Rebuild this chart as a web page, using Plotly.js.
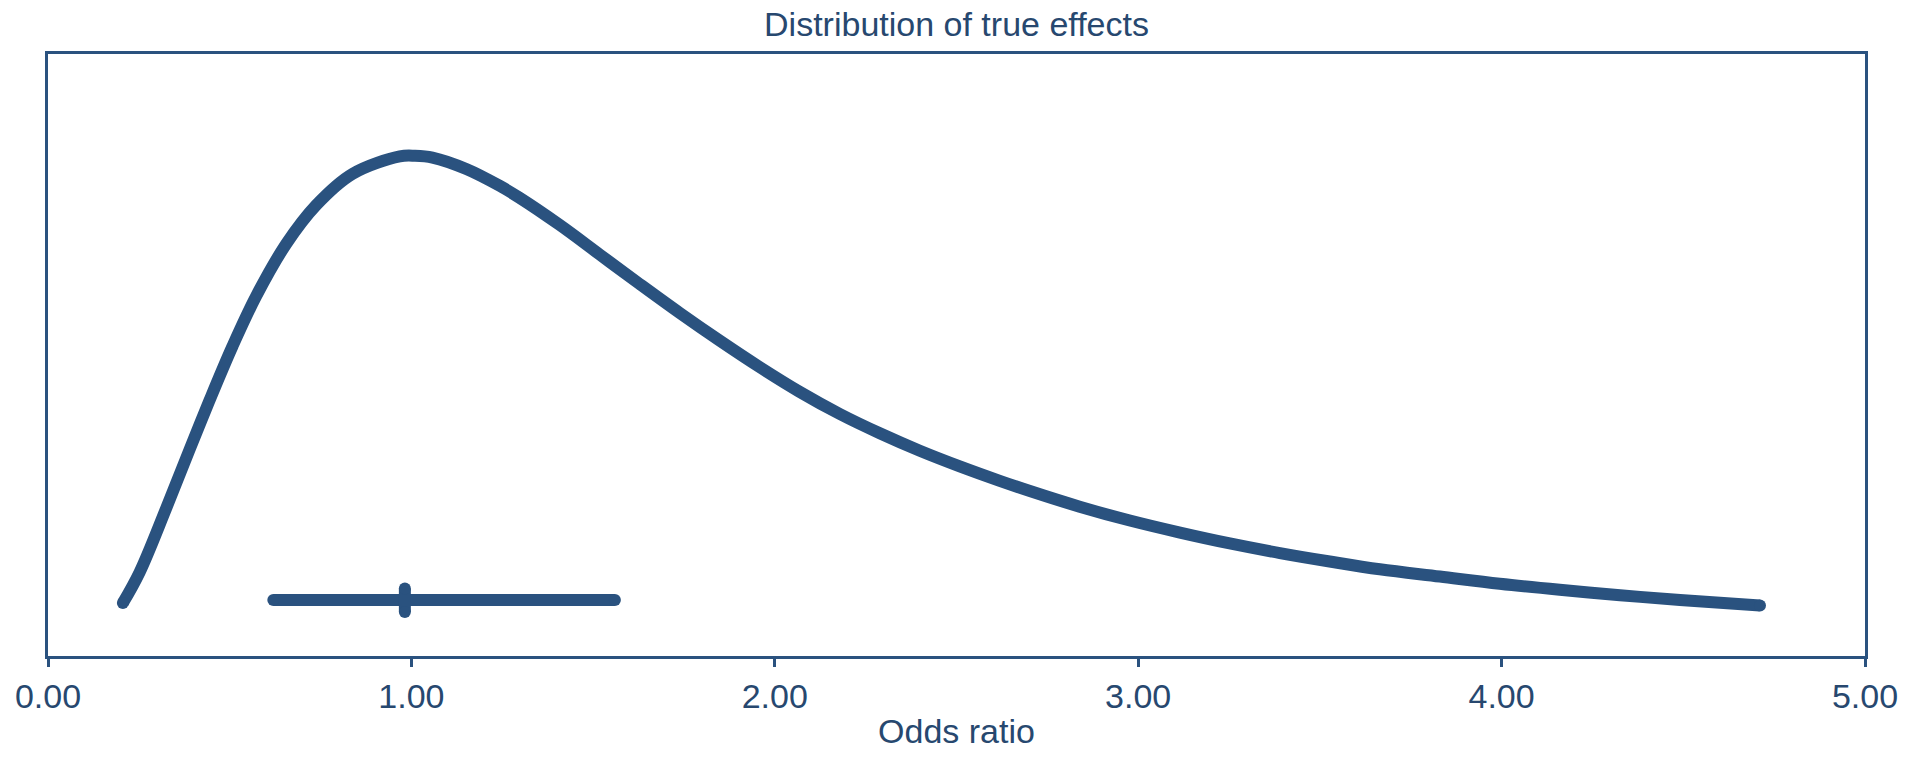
<!DOCTYPE html>
<html>
<head>
<meta charset="utf-8">
<script src="https://cdn.plot.ly/plotly-3.0.1.min.js"></script>
<style>html,body{margin:0;padding:0;background:#fff;}#chart{width:1913px;height:757px;}</style>
</head>
<body>
<div id="chart"></div>
<script>
// Density curve of true effects (odds ratio scale)
const curveX = [0.206,0.252,0.325,0.389,0.444,0.508,0.573,0.656,0.738,0.838,0.968,1.010,1.058,1.151,1.243,1.298,1.408,1.518,1.628,1.738,1.848,1.958,2.068,2.179,2.289,2.399,2.509,2.619,2.702,2.839,2.977,3.115,3.252,3.390,3.527,3.665,3.830,3.995,4.160,4.326,4.491,4.711];
const curveY = [0.088,0.139,0.245,0.342,0.424,0.515,0.598,0.685,0.749,0.801,0.830,0.831,0.828,0.809,0.781,0.761,0.716,0.667,0.618,0.570,0.524,0.480,0.439,0.402,0.370,0.341,0.315,0.291,0.274,0.248,0.225,0.205,0.187,0.171,0.157,0.144,0.132,0.120,0.110,0.101,0.093,0.084];

// Summary interval (lower, point estimate, upper) and its vertical level
const intervalLow = 0.62;
const intervalMid = 0.982;
const intervalHigh = 1.56;
const intervalLevel = 0.093;
const intervalTickSpan = [0.073, 0.112];

const tickVals = [0, 1, 2, 3, 4, 5];
const tickText = ['0.00', '1.00', '2.00', '3.00', '4.00', '5.00'];

const C = '#2a527f';
const TXT = '#27486f';
const LW = 12;
const FS = 34;

const traces = [
  {x: curveX, y: curveY, mode: 'lines', line: {color: C, width: LW, shape: 'spline', smoothing: 1}, hoverinfo: 'skip'},
  {x: [curveX[0], curveX[curveX.length-1]], y: [curveY[0], curveY[curveY.length-1]], mode: 'markers', marker: {color: C, size: LW, line: {width: 0}}, hoverinfo: 'skip'},
  {x: [intervalLow, intervalHigh], y: [intervalLevel, intervalLevel], mode: 'lines+markers', line: {color: C, width: LW}, marker: {color: C, size: LW, line: {width: 0}}, hoverinfo: 'skip'},
  {x: [intervalMid, intervalMid], y: intervalTickSpan, mode: 'lines+markers', line: {color: C, width: LW}, marker: {color: C, size: LW, line: {width: 0}}, hoverinfo: 'skip'}
];

const layout = {
  width: 1913, height: 757,
  margin: {l: 48, r: 48, t: 54, b: 101, pad: 0},
  paper_bgcolor: '#ffffff', plot_bgcolor: '#ffffff',
  showlegend: false,
  font: {family: 'Liberation Sans, Arial, sans-serif', color: TXT, size: FS},
  title: {text: 'Distribution of true effects', font: {size: FS, color: TXT}, x: 0.5, xanchor: 'center', y: 1 - 24.5/757, yanchor: 'middle'},
  xaxis: {
    range: [0, 5], tickvals: tickVals, ticktext: tickText,
    showline: true, linecolor: C, linewidth: 3, mirror: true,
    ticks: 'outside', ticklen: 8, tickwidth: 3, tickcolor: C,
    showgrid: false, zeroline: false,
    tickfont: {size: FS, color: TXT},
    title: {text: 'Odds ratio', font: {size: FS, color: TXT}, standoff: 6}
  },
  yaxis: {
    range: [0, 1], showticklabels: false, ticks: '',
    showline: true, linecolor: C, linewidth: 3, mirror: true,
    showgrid: false, zeroline: false
  }
};

Plotly.newPlot('chart', traces, layout, {displayModeBar: false, staticPlot: true});
</script>
</body>
</html>
